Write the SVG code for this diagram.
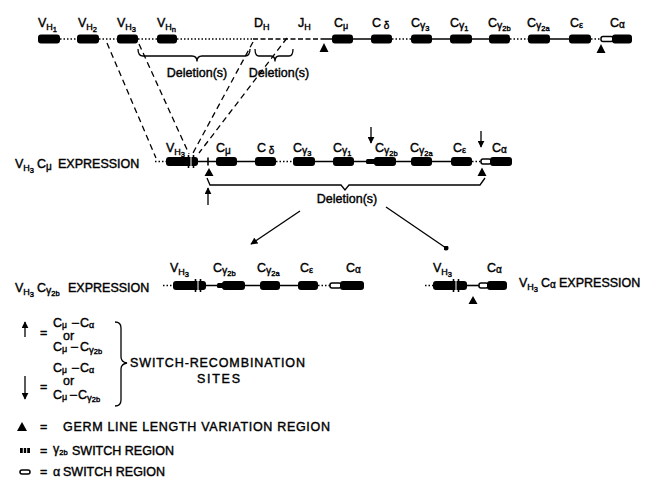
<svg xmlns="http://www.w3.org/2000/svg" width="651" height="479" viewBox="0 0 651 479">
<defs>
<marker id="ah" viewBox="0 0 10 10" refX="9" refY="5" markerWidth="7" markerHeight="7" orient="auto-start-reverse" markerUnits="userSpaceOnUse"><path d="M0,0 L10,5 L0,10 z" fill="#000"/></marker>
<marker id="dot" viewBox="0 0 10 10" refX="5" refY="5" markerWidth="5" markerHeight="5" markerUnits="userSpaceOnUse"><circle cx="5" cy="5" r="5" fill="#000"/></marker>
</defs>
<style>
text{font-family:"Liberation Sans",Arial,sans-serif;font-size:12.5px;fill:#000;stroke:#000;stroke-width:0.4}
.s1{font-size:9px}
.s2{font-size:7.5px}
.box{fill:#000;stroke:none}
.sw{fill:#fff;stroke:#000;stroke-width:1.5}
.sol{stroke:#000;stroke-width:1.6;fill:none}
.dot{stroke:#000;stroke-width:1.6;stroke-dasharray:1.5 2;fill:none}
.dsh{stroke:#000;stroke-width:1.6;stroke-dasharray:5 2.5;fill:none}
.con{stroke:#000;stroke-width:1.3;stroke-dasharray:6 4;fill:none}
.ln{stroke:#000;stroke-width:1.3;fill:none}
.hash{stroke:#000;stroke-width:1.6}
.gap{stroke:#fff;stroke-width:1}
</style>
<rect width="651" height="479" fill="#fff"/>

<!-- ===== TOP ROW (germ line) ===== -->
<g id="top-line">
<path class="dot" d="M60,39H77M99,39H117M138,39H157M177,39H253M392,39H411M510,39H528M591,39H601"/>
<path class="dsh" d="M253,39H322"/>
<path class="sol" d="M322,39H332M353,39H371M432,39H450M472,39H489M550,39H569"/>
</g>
<g id="top-VH1"><rect class="box" x="38" y="34.5" width="22" height="9" rx="3"/><text x="38" y="27">V<tspan class="s1" dy="3">H</tspan><tspan class="s2" dy="1.5">1</tspan></text></g>
<g id="top-VH2"><rect class="box" x="77" y="34.5" width="22" height="9" rx="3"/><text x="78" y="27">V<tspan class="s1" dy="3">H</tspan><tspan class="s2" dy="1.5">2</tspan></text></g>
<g id="top-VH3"><rect class="box" x="117" y="34.5" width="21" height="9" rx="3"/><text x="117" y="27">V<tspan class="s1" dy="3">H</tspan><tspan class="s2" dy="1.5">3</tspan></text></g>
<g id="top-VHn"><rect class="box" x="157" y="34.5" width="20" height="9" rx="3"/><text x="157" y="27">V<tspan class="s1" dy="3">H</tspan><tspan class="s2" dy="1.5">n</tspan></text></g>
<g id="top-DH"><text x="254" y="27">D<tspan class="s1" dy="3">H</tspan></text></g>
<g id="top-JH"><text x="298" y="27">J<tspan class="s1" dy="3">H</tspan></text></g>
<g id="top-Cmu"><rect class="box" x="332" y="34.5" width="21" height="9" rx="3"/><text x="334" y="27">C<tspan class="s1" dy="2" font-size="10">μ</tspan></text></g>
<g id="top-Cdelta"><rect class="box" x="371" y="34.5" width="21" height="9" rx="3"/><text x="372" y="27">C<tspan dy="2" font-size="10"> δ</tspan></text></g>
<g id="top-Cg3"><rect class="box" x="411" y="34.5" width="21" height="9" rx="3"/><text x="411" y="27">C<tspan dy="2" font-size="10.5">γ</tspan><tspan class="s2" dy="1.5">3</tspan></text></g>
<g id="top-Cg1"><rect class="box" x="450" y="34.5" width="22" height="9" rx="3"/><text x="450" y="27">C<tspan dy="2" font-size="10.5">γ</tspan><tspan class="s2" dy="1.5">1</tspan></text></g>
<g id="top-Cg2b"><rect class="box" x="489" y="34.5" width="21" height="9" rx="3"/><text x="488" y="27">C<tspan dy="2" font-size="10.5">γ</tspan><tspan class="s2" dy="1.5">2b</tspan></text></g>
<g id="top-Cg2a"><rect class="box" x="528" y="34.5" width="22" height="9" rx="3"/><text x="527" y="27">C<tspan dy="2" font-size="10.5">γ</tspan><tspan class="s2" dy="1.5">2a</tspan></text></g>
<g id="top-Ceps"><rect class="box" x="569" y="34.5" width="22" height="9" rx="3"/><text x="570" y="27">C<tspan dy="1" font-size="9">ε</tspan></text></g>
<g id="top-Calpha"><rect class="sw" x="601" y="36.5" width="12" height="5" rx="2"/><rect class="box" x="612" y="34.5" width="20" height="9" rx="3"/><text x="610" y="27">C<tspan dy="1" font-size="10">α</tspan></text></g>
<g id="top-tri"><path d="M319.5,52 L324,43 L328.5,52 z M596.5,53 L601,44 L605.5,53 z" fill="#000"/></g>
<g id="top-deletions">
<path class="ln" d="M138,49 Q138,56 143,56 L192,56 Q197,56 197,61.5 Q197,56 202,56 L245,56 Q250,56 250,49"/>
<path class="ln" d="M255,49 Q255,56 259,56 L271,56 Q275,56 275,61.5 Q275,56 279,56 L289,56 Q293,56 293,49"/>
<text x="197" y="77" text-anchor="middle">Deletion(s)</text>
<text x="279" y="77" text-anchor="middle">Deletion(s)</text>
</g>

<!-- ===== connectors ===== -->
<g id="connectors">
<path class="con" d="M107,43 L156,158"/>
<path class="con" d="M139,44 L189,154"/>
<path class="con" d="M253,42 L193,153"/>
<path class="con" d="M287,38 L199,153"/>
<path class="ln" d="M300,211 L251,244" marker-end="url(#ah)"/>
<path class="ln" d="M386,207 L446,248" marker-end="url(#dot)"/>
</g>

<!-- ===== MIDDLE ROW ===== -->
<g id="mid-label"><text x="15" y="168">V<tspan class="s1" dy="3">H</tspan><tspan class="s2" dy="1.5">3</tspan></text><text x="37" y="168">C<tspan dy="2" font-size="10">μ</tspan></text><text x="58" y="168">EXPRESSION</text></g>
<g id="mid-line">
<path class="dot" d="M155,161.5H166M276,161.5H293M472,161.5H481"/>
<path class="sol" d="M198,161.5H216M237,161.5H255M315,161.5H333M354,161.5H366M396,161.5H411M432,161.5H451"/>
<path class="sol" d="M208,157.5V165.5"/>
</g>
<g id="mid-VH3"><rect class="box" x="166" y="157" width="32" height="9" rx="3"/><path class="gap" d="M191,157V166"/><path class="hash" d="M188.5,155V168M193.5,155V168"/><text x="166" y="152">V<tspan class="s1" dy="3">H</tspan><tspan class="s2" dy="1.5">3</tspan></text></g>
<g id="mid-Cmu"><rect class="box" x="216" y="157" width="21" height="9" rx="3"/><text x="216" y="152">C<tspan dy="2" font-size="10">μ</tspan></text></g>
<g id="mid-Cdelta"><rect class="box" x="255" y="157" width="21" height="9" rx="3"/><text x="257" y="152">C<tspan dy="2" font-size="10"> δ</tspan></text></g>
<g id="mid-Cg3"><rect class="box" x="293" y="157" width="22" height="9" rx="3"/><text x="293" y="152">C<tspan dy="2" font-size="10.5">γ</tspan><tspan class="s2" dy="1.5">3</tspan></text></g>
<g id="mid-Cg1"><rect class="box" x="333" y="157" width="21" height="9" rx="3"/><text x="333" y="152">C<tspan dy="2" font-size="10.5">γ</tspan><tspan class="s2" dy="1.5">1</tspan></text></g>
<g id="mid-Cg2b"><rect class="box" x="366" y="159" width="10" height="5" rx="1.5"/><rect class="box" x="374" y="157" width="22" height="9" rx="3"/><text x="375" y="152">C<tspan dy="2" font-size="10.5">γ</tspan><tspan class="s2" dy="1.5">2b</tspan></text></g>
<g id="mid-Cg2a"><rect class="box" x="411" y="157" width="21" height="9" rx="3"/><text x="410" y="152">C<tspan dy="2" font-size="10.5">γ</tspan><tspan class="s2" dy="1.5">2a</tspan></text></g>
<g id="mid-Ceps"><rect class="box" x="451" y="157" width="21" height="9" rx="3"/><text x="453" y="152">C<tspan dy="1" font-size="9">ε</tspan></text></g>
<g id="mid-Calpha"><rect class="sw" x="481" y="159" width="10" height="5" rx="2"/><rect class="box" x="490" y="157" width="22" height="9" rx="3"/><text x="492" y="152">C<tspan dy="1" font-size="10">α</tspan></text></g>
<g id="mid-marks">
<path d="M204.5,176 L209,168 L213.5,176 z M477.5,176 L482,167.5 L486.5,176 z" fill="#000"/>
<path class="ln" d="M208,205 V188" marker-end="url(#ah)"/>
<path class="ln" d="M371,127 V143" marker-end="url(#ah)"/>
<path class="ln" d="M481,131 V147" marker-end="url(#ah)"/>
<path class="ln" d="M207,178 L210,185 L341,185 L345,190 L349,185 L480,185 L485,178"/>
<text x="347" y="203" text-anchor="middle">Deletion(s)</text>
</g>

<!-- ===== BOTTOM LEFT ===== -->
<g id="bl-label"><text x="15" y="292">V<tspan class="s1" dy="3">H</tspan><tspan class="s2" dy="1.5">3</tspan></text><text x="37" y="292">C<tspan dy="2" font-size="10.5">γ</tspan><tspan class="s2" dy="1.5">2b</tspan></text><text x="68" y="292">EXPRESSION</text></g>
<g id="bl-line">
<path class="dot" d="M163,285.5H173M318,285.5H330"/>
<path class="sol" d="M206,285.5H217M245,285.5H260M280,285.5H298"/>
</g>
<g id="bl-VH3"><rect class="box" x="173" y="281" width="33" height="9" rx="3"/><path class="gap" d="M198,281V290"/><path class="hash" d="M195.5,279V292M200.5,279V292"/><text x="170" y="272">V<tspan class="s1" dy="3">H</tspan><tspan class="s2" dy="1.5">3</tspan></text></g>
<g id="bl-Cg2b"><rect class="box" x="217" y="283" width="8" height="5" rx="1.5"/><rect class="box" x="222" y="281" width="23" height="9" rx="3"/><text x="213" y="272">C<tspan dy="2" font-size="10.5">γ</tspan><tspan class="s2" dy="1.5">2b</tspan></text></g>
<g id="bl-Cg2a"><rect class="box" x="260" y="281" width="20" height="9" rx="3"/><text x="257" y="272">C<tspan dy="2" font-size="10.5">γ</tspan><tspan class="s2" dy="1.5">2a</tspan></text></g>
<g id="bl-Ceps"><rect class="box" x="298" y="281" width="20" height="9" rx="3"/><text x="300" y="272">C<tspan dy="1" font-size="9">ε</tspan></text></g>
<g id="bl-Calpha"><rect class="sw" x="330" y="283" width="11" height="5" rx="2"/><rect class="box" x="340" y="281" width="24" height="9" rx="3"/><text x="346" y="272">C<tspan dy="1" font-size="10">α</tspan></text></g>

<!-- ===== BOTTOM RIGHT ===== -->
<g id="br-line">
<path class="dot" d="M425,285.5H433"/>
<path class="sol" d="M467,285.5H479"/>
</g>
<g id="br-VH3"><rect class="box" x="433" y="281" width="34" height="9" rx="3"/><path class="gap" d="M456,281V290"/><path class="hash" d="M453.5,279V292M458.5,279V292"/><text x="433" y="272">V<tspan class="s1" dy="3">H</tspan><tspan class="s2" dy="1.5">3</tspan></text></g>
<g id="br-Calpha"><rect class="sw" x="479" y="283" width="9" height="5" rx="2"/><rect class="box" x="487" y="281" width="20" height="9" rx="3"/><text x="487" y="272">C<tspan dy="1" font-size="10">α</tspan></text></g>
<g id="br-tri"><path d="M468.5,304 L473,296 L477.5,304 z" fill="#000"/></g>
<g id="br-label"><text x="519" y="287">V<tspan class="s1" dy="3">H</tspan><tspan class="s2" dy="1.5">3</tspan></text><text x="541" y="287">C<tspan dy="1" font-size="10">α</tspan></text><text x="559" y="287">EXPRESSION</text></g>

<!-- ===== LEGEND ===== -->
<g id="legend-switch-sites">
<path class="ln" d="M25,337 V322" marker-end="url(#ah)"/>
<text x="40" y="337">=</text>
<text x="53" y="327">C<tspan dy="0.5" font-size="8.5">μ</tspan></text><text x="72" y="327">–</text><text x="80" y="327">C<tspan dy="1" font-size="9">α</tspan></text>
<text x="63" y="340" font-size="11">or</text>
<text x="53" y="351">C<tspan dy="1" font-size="9">μ</tspan></text><text x="71" y="351">–</text><text x="80" y="351">C<tspan dy="1.5" font-size="9.5">γ</tspan><tspan class="s2" dy="1">2b</tspan></text>
<path class="ln" d="M25,376 V399" marker-end="url(#ah)"/>
<text x="40" y="391">=</text>
<text x="53" y="372">C<tspan dy="0.5" font-size="8.5">μ</tspan></text><text x="72" y="372">–</text><text x="80" y="372">C<tspan dy="1" font-size="9">α</tspan></text>
<text x="63" y="385" font-size="11">or</text>
<text x="53" y="399">C<tspan dy="1" font-size="9">μ</tspan></text><text x="70" y="399">–</text><text x="78" y="399">C<tspan dy="1.5" font-size="9.5">γ</tspan><tspan class="s2" dy="1">2b</tspan></text>
<path class="ln" d="M115,322 Q121,322 121,328 L121,357 Q121,362 127,363 Q121,364 121,369 L121,400 Q121,406 115,406"/>
<text x="130" y="367" textLength="175" lengthAdjust="spacing">SWITCH-RECOMBINATION</text>
<text x="197" y="383" textLength="43" lengthAdjust="spacing">SITES</text>
</g>
<g id="legend-tri">
<path d="M17,431 L22,422 L27,431 z" fill="#000"/>
<text x="40" y="431">=</text>
<text x="63" y="431" textLength="267" lengthAdjust="spacing">GERM  LINE  LENGTH VARIATION  REGION</text>
</g>
<g id="legend-g2b">
<rect class="box" x="20" y="448" width="10" height="5"/><path class="gap" d="M23.3,448V453M26.7,448V453"/>
<text x="40" y="455">=</text>
<text x="53" y="453" font-size="10">γ<tspan class="s2" dy="1.5">2b</tspan></text>
<text x="72" y="455">SWITCH REGION</text>
</g>
<g id="legend-alpha">
<rect class="sw" x="20" y="470" width="10" height="4" rx="2"/>
<text x="40" y="476">=</text>
<text x="53" y="476" font-size="10">α</text>
<text x="63" y="476">SWITCH REGION</text>
</g>
</svg>
